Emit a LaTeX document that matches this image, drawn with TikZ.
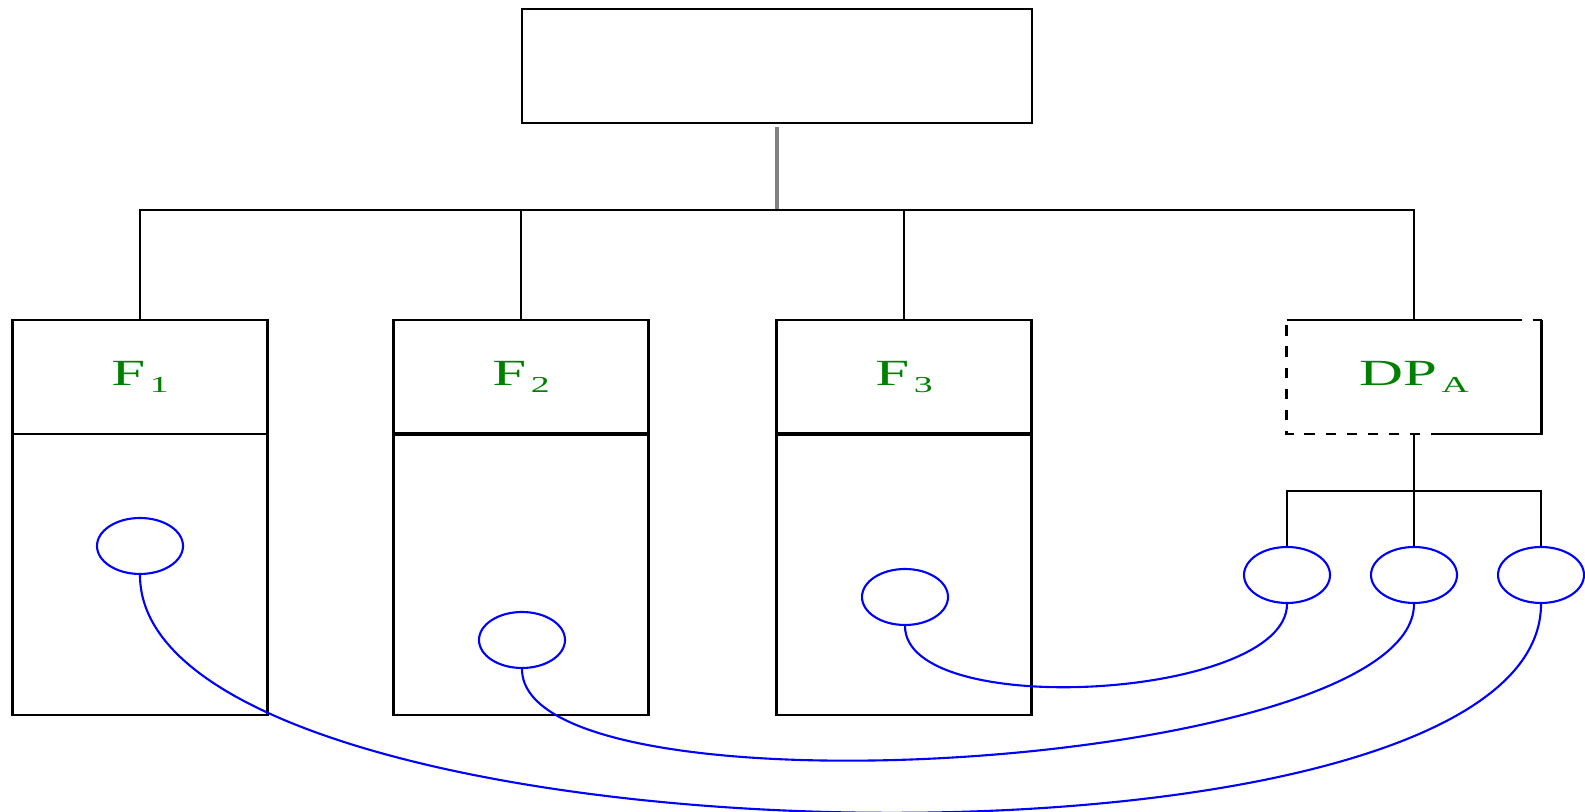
\documentclass[tikz,border=0pt]{standalone}
\usepackage{fontspec}
\setmainfont{Liberation Serif}
\usepackage{xcolor}
\usetikzlibrary{positioning,shapes.geometric}
\definecolor{labgreen}{RGB}{0,128,0}
\newcommand{\lowidx}[1]{\hspace{0.8pt}{\fontsize{6.5}{7}\selectfont\raisebox{-2pt}{#1}}}
\newcommand{\wide}[1]{\scalebox{1.65}[1]{#1}}

\begin{document}
\begin{tikzpicture}[line width=0.6pt,
  head/.style={draw, minimum width=2.55cm, minimum height=1.14cm, inner sep=0pt, outer sep=0pt,
    text=labgreen, font=\fontsize{10.5}{12}\selectfont},
  body/.style={draw, minimum width=2.55cm, minimum height=2.81cm, inner sep=0pt, outer sep=0pt},
  port/.style={ellipse, draw=blue, minimum width=0.86cm, minimum height=0.56cm, inner sep=0pt},
  link/.style={blue}]
\useasboundingbox (0,0) rectangle (15.85,8.12);

\node [draw, line width=0.8pt, minimum width=5.1cm, minimum height=1.14cm] (top) at (7.77,7.46) {};
\coordinate (bus) at (7.77,6.02);

\node [head] (f1) at (1.40,4.35) {\wide{F\lowidx{1}}};
\node [head] (f2) at (5.21,4.35) {\wide{F\lowidx{2}}};
\node [head] (f3) at (9.04,4.35) {\wide{F\lowidx{3}}};
\node [head, draw=none] (dp) at (14.14,4.35) {\wide{DP\lowidx{A}}};

\node [body, below=0pt of f1] (b1) {};
\node [body, below=0pt of f2] (b2) {};
\node [body, below=0pt of f3] (b3) {};
\draw [line width=1.1pt] (b2.north west) -- (b2.north east) (b3.north west) -- (b3.north east);

% tree lines
\draw [gray, line width=1pt] ([yshift=-0.03cm]top.south) -- (bus);
\draw (f1.north) |- (bus) -| (dp.north);
\draw (f2.north) -- (f2.north |- bus);
\draw (f3.north) -- (f3.north |- bus);

% DP box, partly dashed
\draw (dp.north west) -- ([xshift=-0.3cm]dp.north east) (dp.north east) -- (dp.south east) -- ([xshift=-1cm]dp.south east);
\draw [dashed] ([xshift=-0.3cm]dp.north east) -- (dp.north east) ([xshift=-1cm]dp.south east) -- (dp.south west) -- (dp.north west);

\node [port] (c1) at (1.40,2.66) {};
\node [port] (c2) at (5.22,1.72) {};
\node [port] (c3) at (9.05,2.15) {};
\node [port] (d1) at (12.87,2.37) {};
\node [port] (d2) at (14.14,2.37) {};
\node [port] (d3) at (15.41,2.37) {};

\coordinate (sub) at (14.14,3.21);
\draw (dp.south) -- (sub);
\draw (d1.north) |- (sub) -| (d3.north);
\draw (d2.north) -- (sub);

% links
\draw [link] (c1.south) .. controls +(0,-2.97) and +(0,-2.97) .. (d3.south);
\draw [link] (c2.south) .. controls +(0,-1.55) and +(0,-1.65) .. (d2.south);
\draw [link] (c3.south) .. controls +(0,-0.95) and +(0,-0.95) .. (d1.south);

\end{tikzpicture}
\end{document}
